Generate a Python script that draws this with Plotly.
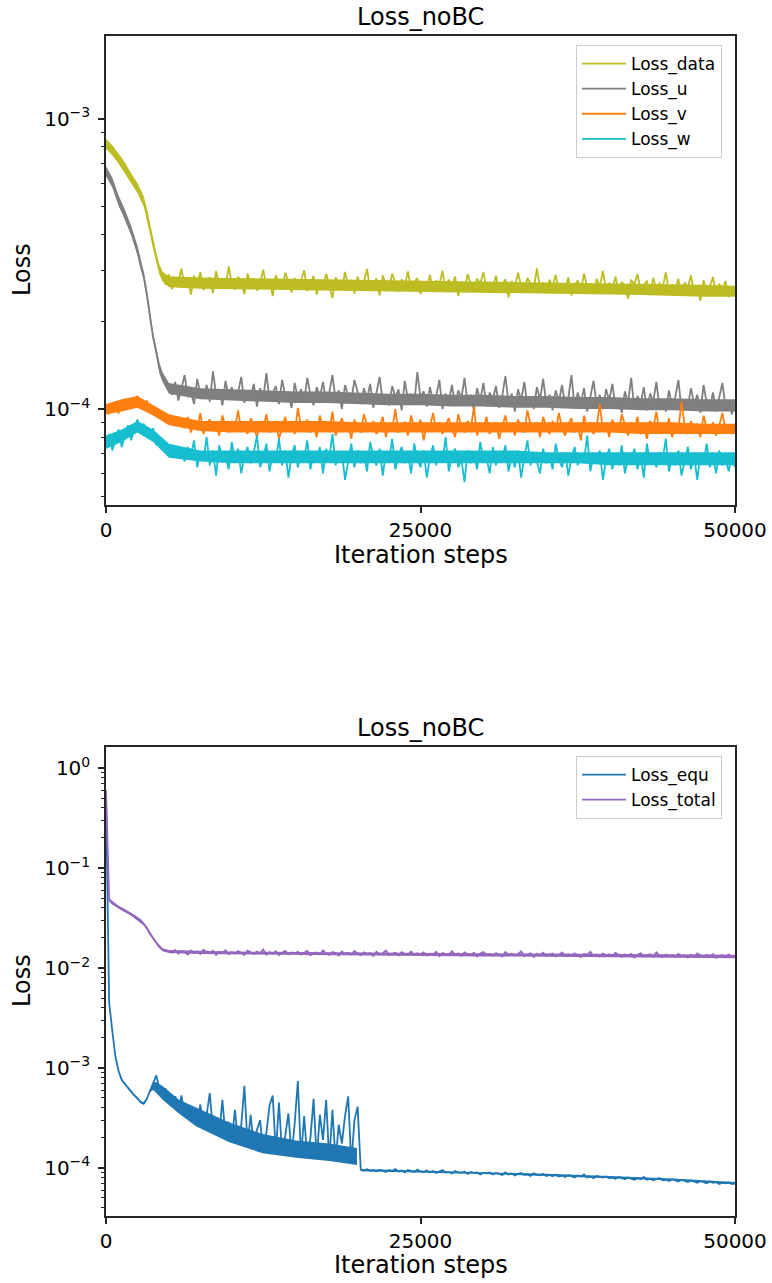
import math
import plotly.graph_objects as go

W, H = 772, 1283

# Iteration grid shared by all recorded losses (one sample every 250 steps)
steps = list(range(0, 50001, 250))
x_ticks = [0, 25000, 50000]

# Upper panel losses, listed in units of 1e-6
loss_data_e6 = [
    820, 805, 775, 762, 728, 712, 676, 650, 618, 604, 570, 552, 515, 472, 418, 368, 332, 302, 286,
    268, 291, 259, 283, 274, 305, 262, 279, 248, 288, 270, 296, 257, 276, 284, 251, 299, 266, 280, 262, 310, 271,
    258, 286, 275, 249, 293, 268, 281, 256, 272, 302, 263, 277, 245, 289, 270, 260, 295, 274, 252, 283,
    266, 278, 301, 255, 271, 287, 248, 276, 262, 292, 269, 241, 284, 273, 258, 297, 265, 279, 250, 286,
    263, 275, 304, 257, 270, 282, 246, 289, 268, 260, 293, 272, 254, 280, 266, 298, 259, 274, 283, 249,
    271, 262, 290, 256, 277, 268, 300, 253, 279, 264, 286, 245, 272, 260, 292, 267, 255, 281, 270, 297,
    258, 274, 263, 288, 251, 269, 280, 242, 276, 261, 295, 266, 254, 283, 270, 259, 305, 262, 273, 250,
    279, 265, 290, 253, 271, 258, 284, 246, 268, 277, 256, 293, 262, 270, 249, 281, 264, 299, 255, 272,
    260, 286, 251, 274, 263, 240, 279, 268, 292, 254, 266, 277, 247, 283, 259, 271, 262, 296, 252, 269,
    258, 281, 246, 273, 262, 289, 250, 267, 236, 278, 255, 264, 285, 248, 270, 257, 276, 243, 262, 250,
]
loss_u_e6 = [
    660, 628, 604, 555, 523, 490, 468, 436, 412, 380, 352, 312, 287, 248, 207, 176, 157, 138, 129, 121, 118,
    112, 124, 107, 118, 131, 110, 115, 104, 127, 113, 109, 121, 106, 135, 112, 117, 103, 125, 110, 119,
    108, 114, 129, 105, 116, 111, 122, 102, 118, 109, 133, 107, 113, 120, 104, 126, 111, 115, 101, 123,
    109, 117, 106, 128, 112, 103, 119, 110, 124, 105, 114, 131, 108, 116, 100, 121, 111, 107, 126, 113,
    104, 118, 109, 122, 101, 114, 129, 106, 112, 103, 120, 110, 117, 99, 125, 108, 113, 104, 134, 109,
    115, 102, 119, 107, 111, 126, 100, 113, 106, 121, 103, 116, 109, 128, 104, 112, 99, 118, 107, 123,
    102, 114, 108, 120, 101, 111, 130, 105, 113, 98, 117, 107, 124, 103, 110, 100, 119, 108, 127, 104,
    112, 99, 116, 106, 121, 103, 109, 131, 101, 114, 105, 118, 98, 110, 125, 104, 112, 100, 117, 107,
    122, 102, 109, 97, 115, 105, 128, 100, 111, 104, 119, 99, 113, 106, 124, 101, 108, 98, 116, 103,
    110, 126, 99, 107, 102, 118, 104, 112, 97, 121, 105, 100, 114, 98, 109, 123, 101, 106, 96, 104,
]
loss_v_e6 = [
    101, 96, 104, 99, 97, 103, 106, 100, 108, 104, 111, 105, 102, 107, 99, 96, 101, 94, 98, 92, 95, 89, 93, 88, 91,
    86, 94, 83, 90, 85, 97, 82, 89, 92, 84, 88, 81, 95, 87, 83, 91, 86, 99, 84, 89,
    82, 93, 87, 80, 90, 85, 96, 83, 88, 91, 79, 86, 94, 84, 89, 82, 101, 87, 85, 92,
    83, 88, 80, 95, 86, 90, 84, 98, 81, 87, 93, 85, 89, 79, 92, 86, 83, 96, 88, 84,
    91, 82, 87, 94, 80, 89, 85, 100, 83, 88, 90, 81, 95, 86, 84, 92, 78, 89, 87, 97,
    84, 90, 82, 88, 93, 85, 80, 96, 87, 83, 91, 86, 102, 81, 89, 85, 94, 82, 88, 90,
    79, 87, 95, 84, 89, 81, 92, 86, 83, 99, 88, 85, 90, 80, 94, 87, 82, 91, 84, 97,
    86, 81, 89, 93, 83, 88, 78, 95, 85, 90, 82, 87, 104, 84, 89, 80, 92, 86, 83, 96,
    88, 81, 90, 85, 94, 82, 87, 79, 91, 86, 98, 83, 89, 84, 93, 80, 88, 85, 106, 87,
    82, 91, 84, 89, 80, 95, 86, 83, 90, 81, 88, 97, 84, 86, 82, 89,
]
loss_w_e6 = [
    76, 82, 72, 79, 85, 74, 81, 88, 78, 86, 92, 84, 89, 83, 79, 86, 75, 80, 72, 77, 70, 75, 68, 73, 71,
    66, 74, 69, 78, 63, 71, 67, 80, 64, 72, 59, 75, 68, 70, 62, 77, 66, 73, 60, 69,
    74, 65, 71, 81, 63, 68, 76, 61, 70, 66, 79, 64, 72, 58, 69, 75, 63, 71, 67, 78,
    62, 70, 66, 74, 60, 73, 68, 82, 64, 69, 71, 57, 67, 76, 63, 72, 65, 70, 61, 77,
    68, 64, 73, 59, 71, 66, 79, 62, 69, 74, 65, 70, 60, 76, 67, 63, 72, 58, 68, 75,
    64, 71, 66, 80, 61, 69, 73, 63, 67, 56, 72, 65, 70, 62, 77, 66, 68, 60, 74, 64,
    70, 67, 75, 61, 69, 63, 72, 58, 68, 78, 64, 71, 66, 60, 73, 65, 69, 62, 76, 67,
    63, 71, 59, 68, 74, 64, 70, 66, 81, 61, 69, 65, 72, 57, 67, 73, 62, 70, 64, 75,
    60, 68, 66, 73, 62, 70, 58, 76, 65, 69, 63, 71, 67, 79, 61, 68, 64, 72, 59, 66,
    74, 62, 69, 57, 70, 65, 76, 63, 68, 60, 72, 64, 67, 61, 70, 63,
]

# Dense core of each noisy curve (lower / upper edge), units of 1e-6
core_late = list(range(7500, 50001, 2500))
core_early = [0, 500, 1000, 1500, 2000, 2500, 3000, 3250, 3500, 3750, 4000, 4250, 4500, 5000]
core_steps = core_early + core_late
core_flat = [0, 1250, 2500, 3750, 5000] + core_late
data_lo = [787, 749, 701, 653, 600, 555, 499, 453, 401, 355, 319, 290, 275, 263,
           260, 259, 258, 257, 256, 255, 255, 254, 253, 252, 251, 250, 249, 248, 247, 246, 244, 244]
data_hi = [853, 811, 759, 707, 650, 601, 541, 491, 435, 385, 345, 314, 297, 287,
           284, 283, 282, 281, 280, 279, 279, 278, 277, 276, 275, 274, 273, 272, 271, 270, 268, 266]
u_lo = [634, 580, 502, 449, 396, 338, 276, 238, 199, 169, 151, 132, 124, 113,
        108, 107, 106, 105, 105, 104, 103, 103, 102, 102, 101, 101, 100, 100, 99, 99, 98, 98]
u_hi = [686, 628, 544, 487, 428, 366, 298, 258, 215, 183, 163, 144, 134, 123,
        118, 117, 116, 115, 115, 114, 113, 113, 112, 112, 111, 111, 110, 110, 109, 109, 108, 108]
v_lo = [96, 98, 101, 95, 88, 84, 83, 83, 83, 83, 83, 83, 83, 83, 83, 83, 83, 83, 83, 82, 82, 82, 82]
v_hi = [104, 108, 111, 103, 96, 91, 91, 91, 91, 91, 90, 90, 90, 90, 90, 90, 90, 90, 90, 90, 90, 89, 89]
w_lo = [73, 77, 83, 77, 68, 66, 65, 65, 65, 65, 65, 65, 65, 65, 65, 65, 65, 65, 64, 64, 64, 64, 64]
w_hi = [81, 85, 91, 85, 76, 72, 72, 72, 72, 72, 72, 72, 72, 72, 72, 72, 71, 71, 71, 71, 71, 71, 71]

# Lower panel: PDE residual loss (units of 1e-6) and total loss (units of 1e-4)
loss_equ_e6 = [
    550000, 4500, 2350, 1300, 930, 760, 690, 630, 580, 530, 495, 455, 440, 490, 590, 720, 840, 610, 560, 620,
    470, 410, 520, 370, 530, 330, 420, 300, 390, 285, 430, 260, 340, 560, 240, 310, 215, 480, 205, 290,
    190, 380, 182, 265, 660, 170, 340, 160, 240, 300, 150, 225, 420, 530, 142, 450, 136, 210, 350, 132,
    280, 740, 128, 330, 125, 200, 490, 122, 340, 190, 480, 118, 380, 116, 270, 175, 330, 520, 110, 300, 410,
    96, 94, 97, 93, 95, 92, 96, 94, 91, 95, 93, 97, 92, 94, 90, 95, 93, 91, 96, 92,
    91, 94, 90, 93, 89, 92, 95, 90, 91, 88, 93, 90, 89, 92, 87, 91, 89, 90, 86, 89,
    88, 90, 86, 89, 87, 85, 90, 86, 88, 84, 87, 89, 85, 86, 83, 88, 85, 84, 87, 83,
    85, 83, 86, 82, 84, 81, 85, 83, 80, 84, 82, 86, 80, 82, 79, 83, 81, 80, 82, 79,
    80, 78, 81, 79, 77, 80, 78, 76, 79, 77, 81, 76, 78, 75, 77, 79, 75, 76, 74, 77,
    75, 73, 76, 74, 72, 75, 73, 71, 74, 72, 70, 73, 71, 72, 69, 71, 70, 72, 69, 70,
]
loss_total_e4 = [
    6000, 480, 440, 418, 405, 392, 378, 362, 345, 332, 318, 300, 275, 250, 220, 198, 178, 162, 152, 148, 146,
    142, 151, 139, 147, 144, 136, 149, 141, 146, 138, 152, 143, 140, 148, 135, 145, 142, 150, 137, 144,
    139, 147, 141, 135, 149, 143, 138, 146, 140, 153, 136, 144, 139, 147, 134, 142, 148, 137, 143, 140,
    145, 136, 141, 148, 134, 140, 143, 137, 150, 139, 135, 144, 141, 133, 146, 138, 142, 136, 147, 139,
    134, 143, 138, 141, 132, 145, 137, 140, 149, 135, 139, 142, 133, 144, 138, 136, 146, 134, 140, 137,
    143, 133, 139, 136, 145, 131, 141, 138, 134, 147, 136, 140, 132, 143, 137, 135, 142, 130, 139, 144,
    134, 138, 132, 141, 136, 130, 144, 135, 139, 133, 137, 146, 131, 136, 140, 129, 138, 134, 142, 132,
    136, 139, 130, 135, 143, 133, 137, 131, 140, 134, 128, 138, 135, 145, 132, 136, 130, 139, 133, 137,
    131, 141, 134, 129, 136, 132, 138, 127, 135, 140, 131, 134, 137, 130, 143, 133, 128, 136, 132, 135,
    129, 138, 131, 134, 127, 136, 130, 140, 133, 128, 135, 131, 137, 126, 132, 134, 129, 136, 130, 131,
]
equ_core_steps = [750, 1000, 1250, 1500, 1750, 2000, 2250, 2500, 2750, 3000, 3250, 3500, 3750, 4000,
                  4500, 5800, 7150, 9800, 12450, 15100, 17750, 19950]
equ_lo = [1270, 905, 740, 672, 614, 565, 516, 482, 443, 428, 477, 570, 600, 560,
          480, 350, 260, 180, 140, 126, 117, 107]
equ_hi = [1330, 955, 780, 708, 646, 595, 544, 508, 467, 452, 503, 610, 720, 720,
          660, 480, 400, 285, 218, 188, 175, 158]
equ_tail_steps = [20250, 25000, 30000, 35000, 40000, 45000, 50000]
equ_tail_lo = [92.6, 89.7, 86.8, 82.9, 79, 74.6, 68.7]
equ_tail_hi = [97.4, 94.3, 91.2, 87.1, 83, 78.4, 72.3]
total_core_steps = [250, 1000, 2000, 3000, 3250, 3500, 3750, 4000, 4250, 4500, 5000] + core_late
total_lo = [463, 391, 333, 265, 241, 212, 191, 172, 156, 147, 141,
            138, 136, 135, 134, 133, 132.5, 132, 131.5, 131, 130, 130, 129, 129, 128, 128, 127, 126, 125]
total_hi = [497, 419, 357, 285, 259, 228, 205, 184, 168, 157, 151,
            148, 146, 145, 144, 143, 142.5, 142, 141.5, 141, 140, 139, 139, 138, 138, 137, 137, 136, 135]

FONT = "DejaVu Sans"
AX = "#262626"
LW = 1.8


def px(x):
    return x / W


def py(y):
    return 1 - y / H


def minor_log(lo_exp, hi_exp):
    return [m * 10.0 ** e for e in range(lo_exp, hi_exp + 1) for m in range(2, 10)]


fig = go.Figure()


def add_core(xs, lo, hi, unit, color, xa, ya):
    fig.add_trace(go.Scatter(
        x=list(xs) + list(xs)[::-1],
        y=[v * unit for v in hi] + [v * unit for v in lo][::-1],
        fill="toself", fillcolor=color, mode="lines", line=dict(width=0, color=color),
        hoverinfo="skip", showlegend=False, xaxis=xa, yaxis=ya,
    ))


def add_curve(name, vals, unit, color, xa, ya, legend):
    fig.add_trace(go.Scatter(
        x=steps, y=[v * unit for v in vals], name=name, mode="lines",
        line=dict(color=color, width=LW), xaxis=xa, yaxis=ya, legend=legend,
    ))


top_series = [
    ("Loss_data", loss_data_e6, "#bcbd22", core_steps, data_lo, data_hi),
    ("Loss_u", loss_u_e6, "#7f7f7f", core_steps, u_lo, u_hi),
    ("Loss_v", loss_v_e6, "#ff7f0e", core_flat, v_lo, v_hi),
    ("Loss_w", loss_w_e6, "#17becf", core_flat, w_lo, w_hi),
]
for name, vals, color, bx, lo, hi in top_series:
    add_core(bx, lo, hi, 1e-6, color, "x", "y")
    add_curve(name, vals, 1e-6, color, "x", "y", "legend")

add_core(equ_core_steps, equ_lo, equ_hi, 1e-6, "#1f77b4", "x2", "y2")
add_core(equ_tail_steps, equ_tail_lo, equ_tail_hi, 1e-6, "#1f77b4", "x2", "y2")
add_curve("Loss_equ", loss_equ_e6, 1e-6, "#1f77b4", "x2", "y2", "legend2")
add_core(total_core_steps, total_lo, total_hi, 1e-4, "#9467bd", "x2", "y2")
add_curve("Loss_total", loss_total_e4, 1e-4, "#9467bd", "x2", "y2", "legend2")


def x_axis(anchor):
    return dict(
        domain=[px(106), px(735)], anchor=anchor, range=[0, 50000], automargin=False,
        tickvals=x_ticks, ticktext=[str(t) for t in x_ticks],
        showline=True, mirror=True, linecolor=AX, linewidth=1.5,
        ticks="outside", ticklen=6, tickwidth=1.5, tickcolor=AX,
        showgrid=False, zeroline=False, tickfont=dict(size=20, color="black"),
    )


def y_axis(anchor, top, bottom, lo, hi, majors):
    return dict(
        domain=[py(bottom), py(top)], anchor=anchor, type="log", automargin=False,
        range=[math.log10(lo), math.log10(hi)],
        tickvals=[10.0 ** e for e in majors],
        ticktext=["10<sup>\u2212%d</sup>" % -e if e < 0 else "10<sup>%d</sup>" % e for e in majors],
        minor=dict(tickvals=minor_log(min(majors) - 1, max(majors)), ticks="outside",
                   ticklen=3.5, tickwidth=1.2, tickcolor=AX),
        showline=True, mirror=True, linecolor=AX, linewidth=1.5,
        ticks="outside", ticklen=6, tickwidth=1.5, tickcolor=AX,
        showgrid=False, zeroline=False, ticklabelstandoff=4,
        tickfont=dict(size=20, color="black"),
    )


legend_style = dict(
    xanchor="left", yanchor="top", bgcolor="rgba(255,255,255,0.85)",
    bordercolor="#cccccc", borderwidth=1, font=dict(size=17, color="black"),
    tracegroupgap=0, itemwidth=44,
)

annotations = []
for title_y, label_y, xlabel_y in [(17, 270, 555), (728, 981, 1265)]:
    annotations.append(dict(text="Loss_noBC", x=px(420.5), y=py(title_y), xref="paper", yref="paper",
                            showarrow=False, xanchor="center", yanchor="middle",
                            font=dict(size=24, color="black")))
    annotations.append(dict(text="Loss", x=px(22), y=py(label_y), xref="paper", yref="paper",
                            showarrow=False, xanchor="center", yanchor="middle", textangle=-90,
                            font=dict(size=24, color="black")))
    annotations.append(dict(text="Iteration steps", x=px(420.5), y=py(xlabel_y), xref="paper", yref="paper",
                            showarrow=False, xanchor="center", yanchor="middle",
                            font=dict(size=24, color="black")))

fig.update_layout(
    width=W, height=H, margin=dict(l=0, r=0, t=0, b=0, autoexpand=False),
    paper_bgcolor="white", plot_bgcolor="white",
    font=dict(family=FONT, color="black"),
    xaxis=x_axis("y"),
    yaxis=y_axis("x", 36, 505, 4.67e-5, 1.93e-3, [-4, -3]),
    xaxis2=x_axis("y2"),
    yaxis2=y_axis("x2", 747, 1216, 3.3e-5, 1.62, [-4, -3, -2, -1, 0]),
    legend=dict(x=px(576), y=py(45), **legend_style),
    legend2=dict(x=px(576), y=py(756), **legend_style),
    annotations=annotations,
    showlegend=True,
)

fig.write_html("out.html")
